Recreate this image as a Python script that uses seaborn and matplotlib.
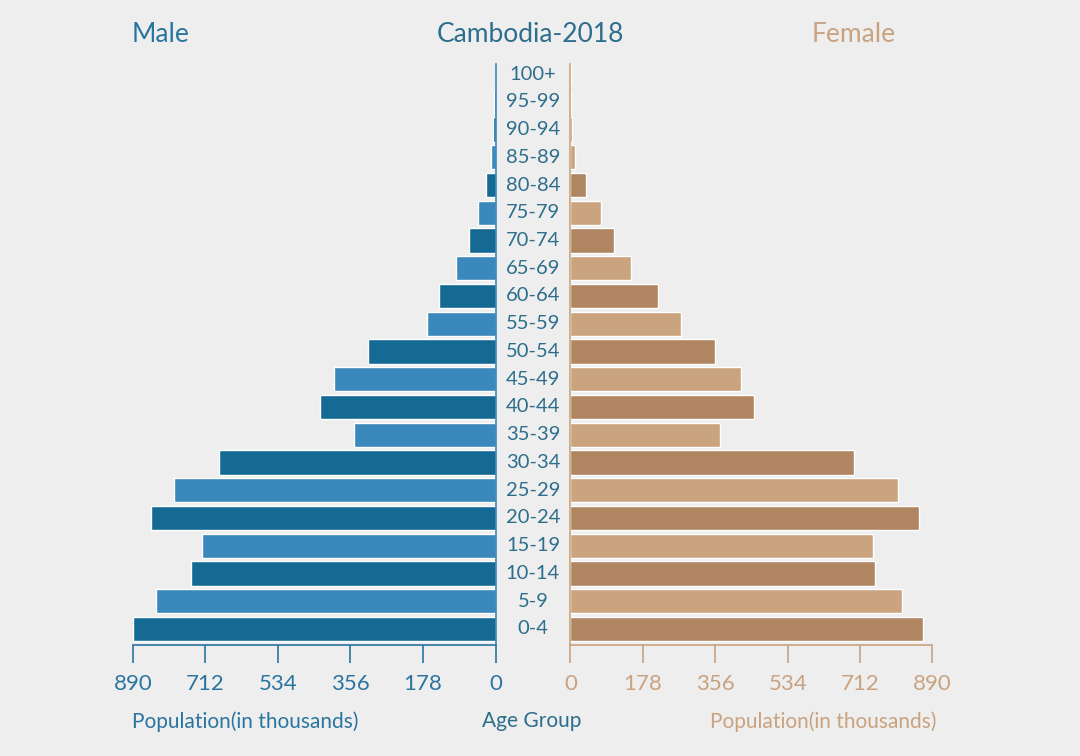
import numpy as np
import pandas as pd
import seaborn as sns
import matplotlib.pyplot as plt
from matplotlib.transforms import blended_transform_factory

# age groups, oldest first (top of the pyramid)
age_groups = ['100+', '95-99', '90-94', '85-89', '80-84', '75-79', '70-74', '65-69',
              '60-64', '55-59', '50-54', '45-49', '40-44', '35-39', '30-34', '25-29',
              '20-24', '15-19', '10-14', '5-9', '0-4']
# population in thousands
male = [0.5, 3, 7, 12, 24, 44, 66, 96, 138, 167, 313, 397, 431, 348, 679, 789,
        846, 720, 747, 833, 890]
female = [0.5, 2, 5, 11, 39, 74, 107, 148, 215, 272, 355, 419, 451, 368, 697, 806,
          858, 745, 749, 815, 866]
ticks = [0, 178, 356, 534, 712, 890]

bg = '#eeeeee'
male_dark, male_light = '#156a94', '#3b88bc'
female_dark, female_light = '#b08662', '#c9a47f'
male_txt = '#2a75a0'
female_txt = '#c9a27f'
age_txt = '#2c6e8c'

sns.set_style('white')
plt.rcParams['font.family'] = ['Lato', 'DejaVu Sans']

df = pd.DataFrame({'age': age_groups, 'male': male, 'female': female})
# alternate colours, 0-4 gets the dark shade
n = len(age_groups)
male_pal = {a: (male_dark if (n - 1 - i) % 2 == 0 else male_light) for i, a in enumerate(age_groups)}
female_pal = {a: (female_dark if (n - 1 - i) % 2 == 0 else female_light) for i, a in enumerate(age_groups)}

fig = plt.figure(figsize=(10.8, 7.56), dpi=100, facecolor=bg)
ax_l = fig.add_axes([0.1231, 0.1468, 0.3357, 0.7685], facecolor=bg)
ax_r = fig.add_axes([0.5282, 0.1468, 0.3352, 0.7685], facecolor=bg)

sns.barplot(data=df, x='male', y='age', hue='age', palette=male_pal, order=age_groups,
            orient='h', width=0.87, legend=False, ax=ax_l, saturation=1)
sns.barplot(data=df, x='female', y='age', hue='age', palette=female_pal, order=age_groups,
            orient='h', width=0.87, legend=False, ax=ax_r, saturation=1)

for ax, col in [(ax_l, male_txt), (ax_r, female_txt)]:
    ax.set_ylim(n - 1 + 0.58, -0.36)
    ax.set_xlim(0, 890)
    ax.set_xticks(ticks)
    ax.set_xticklabels([str(t) for t in ticks])
    ax.set_yticks([])
    ax.set_xlabel('')
    ax.set_ylabel('')
    ax.tick_params(axis='x', bottom=True, direction='out', length=13, width=1.2, color=col,
                   labelcolor=col, labelsize=16, pad=8)
    ax.spines['top'].set_visible(False)
    ax.spines['bottom'].set_color(col)
    ax.spines['bottom'].set_linewidth(1.2)

ax_l.invert_xaxis()
ax_l.spines['left'].set_visible(False)
ax_l.spines['right'].set_color(male_light)
ax_l.spines['right'].set_linewidth(1.2)
ax_r.spines['right'].set_visible(False)
ax_r.spines['left'].set_color(female_light)
ax_r.spines['left'].set_linewidth(1.2)

# age group labels in the gap between the two halves
trans = blended_transform_factory(fig.transFigure, ax_l.transData)
for i, a in enumerate(age_groups):
    ax_l.text(0.4935, i, a, transform=trans, ha='center', va='center',
              fontsize=14.5, color=age_txt, clip_on=False)

fig.text(0.149, 0.954, 'Male', ha='center', va='center', fontsize=19, color=male_txt)
fig.text(0.491, 0.954, 'Cambodia-2018', ha='center', va='center', fontsize=19, color=age_txt)
fig.text(0.790, 0.954, 'Female', ha='center', va='center', fontsize=19, color=female_txt)

fig.text(0.227, 0.046, 'Population(in thousands)', ha='center', va='center', fontsize=15, color=male_txt)
fig.text(0.492, 0.046, 'Age Group', ha='center', va='center', fontsize=15, color=age_txt)
fig.text(0.762, 0.046, 'Population(in thousands)', ha='center', va='center', fontsize=15, color=female_txt)

fig.savefig('out.png', dpi=100, facecolor=bg)
